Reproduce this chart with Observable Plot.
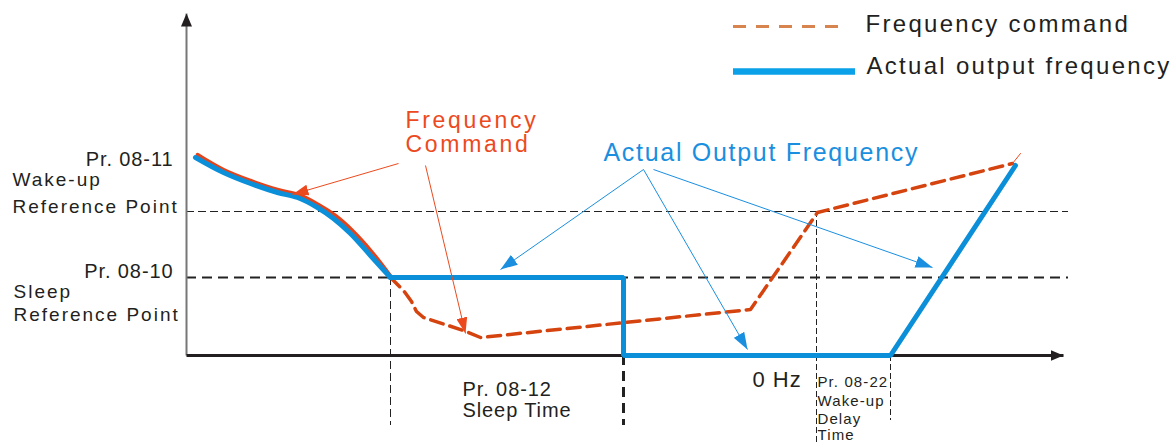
<!DOCTYPE html>
<html><head><meta charset="utf-8">
<script src="https://cdn.jsdelivr.net/npm/d3@7"></script>
<script src="https://cdn.jsdelivr.net/npm/@observablehq/plot@0.6"></script>
<style>
html,body{margin:0;padding:0;background:#fff;}
#chart svg{display:block;}
g[font-size="25"]{letter-spacing:1.7px;}
g[font-size="24"]{letter-spacing:2.3px;}
g[font-size="23"]{letter-spacing:2.7px;}
g[font-size="22"]{letter-spacing:1px;}
g[font-size="20"]{letter-spacing:0.9px;}
g[font-size="19"]{letter-spacing:2px;}
g[font-size="15"]{letter-spacing:1.1px;}
</style></head><body><div id="chart"></div>
<script>
// ---- chart values (t = time units from origin, f = frequency units above 0 Hz) ----
const fWake = 144;          // Pr. 08-11 wake-up reference point
const fSleep = 78;          // Pr. 08-10 sleep reference point
const tSleepStart = 204;    // output reaches sleep level
const tSleepEnd = 437;      // after Pr. 08-12 sleep time
const tWakeDetect = 630;    // command crosses wake-up level
const tWakeRun = 704;       // after Pr. 08-22 wake-up delay
const tGuideEnd = 882;
const tAxisEnd = 877;
const fAxisEnd = 342;

// actual output frequency: decel curve, then sleep/zero/ramp steps
const outputCurve = [
  {t: 9, f: 198}, {t: 37, f: 183}, {t: 64, f: 172}, {t: 91, f: 163},
  {t: 111, f: 158}, {t: 131, f: 148}, {t: 147, f: 137}, {t: 164, f: 122},
  {t: 184, f: 100}, {t: 204, f: 78}
];
const outputSteps = [
  {t: 204, f: 78}, {t: 437, f: 78}, {t: 437, f: 0}, {t: 704, f: 0}, {t: 829, f: 190}
];
// frequency command
const commandSolid = [
  {t: 11, f: 201}, {t: 37, f: 186}, {t: 64, f: 175}, {t: 91, f: 166},
  {t: 112, f: 161}, {t: 132, f: 151}, {t: 149, f: 140}, {t: 166, f: 125},
  {t: 186, f: 103}, {t: 206, f: 77}
];
const commandDashed = [
  {t: 204, f: 78}, {t: 217, f: 65}, {t: 225, f: 54}, {t: 230, f: 44},
  {t: 237, f: 38}, {t: 277, f: 25}, {t: 294, f: 18}, {t: 564, f: 46},
  {t: 631, f: 143}, {t: 826, f: 192}
];
const commandTip = [{t: 826, f: 192}, {t: 834, f: 202}];

// annotation arrows
const redArrows = [
  {t1: 212, f1: 192, t2: 106, f2: 161},
  {t1: 239, f1: 190, t2: 279, f2: 22}
];
const blueArrows = [
  {t1: 457, f1: 186, t2: 314, f2: 86},
  {t1: 457, f1: 186, t2: 561, f2: 6},
  {t1: 467, f1: 186, t2: 746, f2: 88}
];

// text labels
const leftLabels = [
  {text: "Pr. 08-11", t: -13, f: 190},
  {text: "Pr. 08-10", t: -13, f: 78},
  {text: "Pr. 08-12", t: 276, f: -40},
  {text: "Sleep Time", t: 276, f: -61}
];
const descLabels = [
  {text: "Wake-up", t: -174, f: 170},
  {text: "Reference Point", t: -174, f: 143},
  {text: "Sleep", t: -173, f: 58},
  {text: "Reference Point", t: -173, f: 35}
];
const smallLabels = [
  {text: "Pr. 08-22", t: 631, f: -31},
  {text: "Wake-up", t: 631, f: -50},
  {text: "Delay", t: 631, f: -68},
  {text: "Time", t: 631, f: -84}
];
const redTitle = [{text: "Frequency", t: 219, f: 228}, {text: "Command", t: 219, f: 204}];
const blueTitle = [{text: "Actual Output Frequency", t: 417, f: 195}];
const zeroLabel = [{text: "0 Hz", t: 566, f: -31}];

// legend
const legendItems = [
  {name: "Frequency command", t1: 547, t2: 660, f: 329, tt: 679, ft: 324},
  {name: "Actual output frequency", t1: 547, t2: 669, f: 284, tt: 680, ft: 282}
];

const BLUE = "#0b8fd9", RED = "#d5430f", RED_SOLID = "#e5441a";
const ANN_RED = "#ec4a1e", ANN_BLUE = "#1a8fe0", INK = "#231f20";

const chart = Plot.plot({
  width: 1173, height: 443,
  marginTop: 0, marginRight: 0, marginBottom: 0, marginLeft: 0,
  x: {type: "linear", domain: [-186, 987], range: [0, 1173], axis: null},
  y: {type: "linear", domain: [-88, 355], range: [443, 0], axis: null},
  style: {fontFamily: "'Liberation Sans', Arial, sans-serif", background: "#fff"},
  marks: [
    // reference guide lines
    Plot.ruleY([fWake], {x1: 0, x2: tGuideEnd, stroke: "#222", strokeWidth: 1, strokeDasharray: "8,4"}),
    Plot.ruleY([fSleep], {x1: 0, x2: tGuideEnd, stroke: "#222", strokeWidth: 2, strokeDasharray: "10,6"}),
    Plot.ruleX([tSleepStart], {y1: fSleep, y2: -70, stroke: "#222", strokeWidth: 1, strokeDasharray: "8,4"}),
    Plot.ruleX([tSleepEnd], {y1: 0, y2: -70, stroke: "#222", strokeWidth: 3, strokeDasharray: "10,6"}),
    Plot.ruleX([tWakeDetect], {y1: fWake, y2: -92, stroke: "#222", strokeWidth: 1, strokeDasharray: "6,3"}),
    Plot.ruleX([tWakeRun], {y1: 0, y2: -65, stroke: "#222", strokeWidth: 1, strokeDasharray: "6,3"}),
    // axes
    Plot.link([{t1: 0, f1: 0, t2: 0, f2: fAxisEnd}], {x1: "t1", y1: "f1", x2: "t2", y2: "f2", stroke: "#777", strokeWidth: 2, ariaDescription: "axis-arrow"}),
    Plot.link([{t1: 0, f1: 0, t2: tAxisEnd, f2: 0}], {x1: "t1", y1: "f1", x2: "t2", y2: "f2", stroke: INK, strokeWidth: 3, ariaDescription: "axis-arrow"}),
    // frequency command
    Plot.line(commandSolid, {x: "t", y: "f", stroke: RED_SOLID, strokeWidth: 3.5, curve: "catmull-rom"}),
    Plot.line(commandDashed, {x: "t", y: "f", stroke: RED, strokeWidth: 3.5, strokeDasharray: "13,7", curve: "linear"}),
    Plot.line(commandTip, {x: "t", y: "f", stroke: ANN_RED, strokeWidth: 1}),
    // actual output
    Plot.line(outputCurve, {x: "t", y: "f", stroke: BLUE, strokeWidth: 5, curve: "catmull-rom"}),
    Plot.line(outputSteps, {x: "t", y: "f", stroke: BLUE, strokeWidth: 5, strokeLinejoin: "miter"}),
    // annotation arrows
    Plot.link(redArrows, {x1: "t1", y1: "f1", x2: "t2", y2: "f2", stroke: ANN_RED, strokeWidth: 1, ariaDescription: "red-arrow"}),
    Plot.link(blueArrows, {x1: "t1", y1: "f1", x2: "t2", y2: "f2", stroke: ANN_BLUE, strokeWidth: 1, ariaDescription: "blue-arrow"}),
    // labels
    Plot.text(leftLabels.slice(0, 2), {x: "t", y: "f", text: "text", textAnchor: "end", lineAnchor: "bottom", fontSize: 20, fill: INK}),
    Plot.text(leftLabels.slice(2), {x: "t", y: "f", text: "text", textAnchor: "start", lineAnchor: "bottom", fontSize: 20, fill: INK}),
    Plot.text(descLabels, {x: "t", y: "f", text: "text", textAnchor: "start", lineAnchor: "bottom", fontSize: 19, fill: INK}),
    Plot.text(smallLabels, {x: "t", y: "f", text: "text", textAnchor: "start", lineAnchor: "bottom", fontSize: 15, fill: INK}),
    Plot.text(zeroLabel, {x: "t", y: "f", text: "text", textAnchor: "start", lineAnchor: "bottom", fontSize: 22, fill: INK}),
    Plot.text(redTitle, {x: "t", y: "f", text: "text", textAnchor: "start", lineAnchor: "bottom", fontSize: 23, fill: ANN_RED}),
    Plot.text(blueTitle, {x: "t", y: "f", text: "text", textAnchor: "start", lineAnchor: "bottom", fontSize: 25, fill: ANN_BLUE}),
    // legend
    Plot.ruleY(legendItems.slice(0, 1), {y: "f", x1: "t1", x2: "t2", stroke: "#d8844e", strokeWidth: 3, strokeDasharray: "13,10"}),
    Plot.ruleY(legendItems.slice(1), {y: "f", x1: "t1", x2: "t2", stroke: "#0aa1e8", strokeWidth: 6.5}),
    Plot.text(legendItems, {x: "tt", y: "ft", text: "name", textAnchor: "start", lineAnchor: "bottom", fontSize: 24, fill: INK})
  ]
});

// filled triangular arrowheads
const svg = d3.select(chart);
const defs = svg.insert("defs", ":first-child");
function head(id, color, len, wid) {
  defs.append("marker").attr("id", id)
    .attr("viewBox", `0 0 ${len} ${wid}`).attr("refX", len).attr("refY", wid / 2)
    .attr("markerWidth", len).attr("markerHeight", wid)
    .attr("markerUnits", "userSpaceOnUse").attr("orient", "auto")
    .append("path").attr("d", `M0,0L${len},${wid / 2}L0,${wid}Z`).attr("fill", color);
}
head("h-red", ANN_RED, 16, 11);
head("h-blue", ANN_BLUE, 17, 12);
head("h-axis", INK, 13, 11);
function arm(desc, id) {
  svg.selectAll(`g[aria-description="${desc}"] path`).attr("marker-end", `url(#${id})`);
}
arm("red-arrow", "h-red");
arm("blue-arrow", "h-blue");
arm("axis-arrow", "h-axis");

document.getElementById("chart").append(chart);
</script>
</body></html>
